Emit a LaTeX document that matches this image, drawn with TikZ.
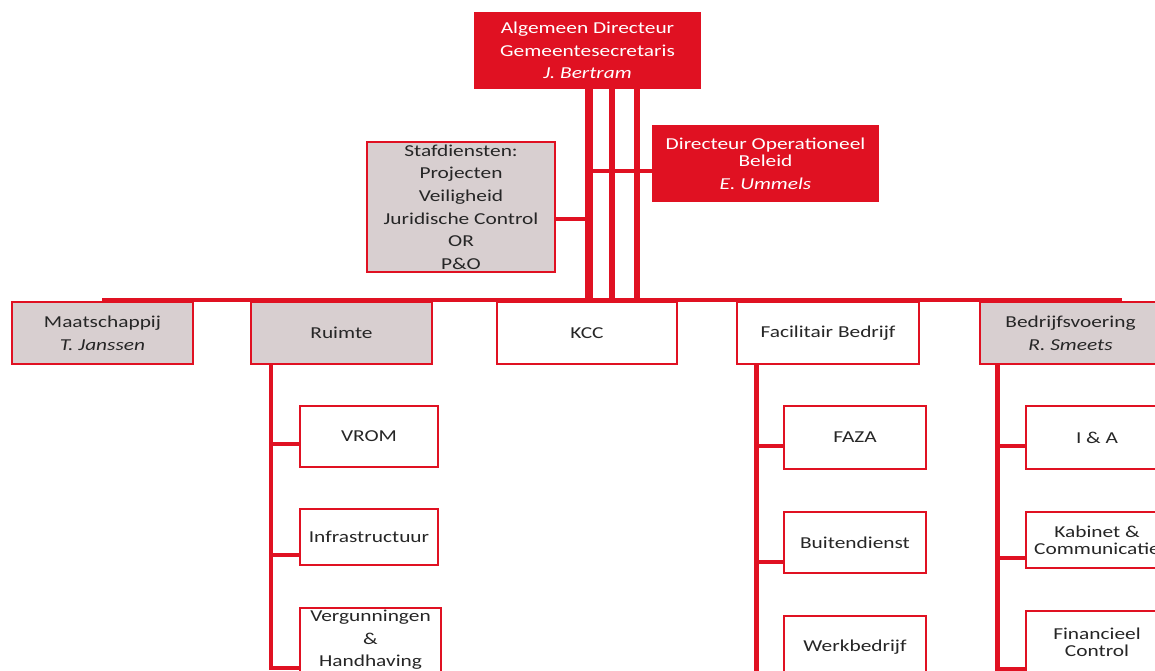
\documentclass[tikz,border=0pt]{standalone}
\usepackage{fontspec}
\setmainfont{Carlito}[FakeStretch=1.28]
\usetikzlibrary{calc}
\definecolor{orgred}{RGB}{224,17,34}
\definecolor{orggray}{RGB}{216,207,208}
\definecolor{orgtext}{RGB}{38,38,38}

\begin{document}
\begin{tikzpicture}[
    x=0.02cm, y=-0.02cm, line join=miter,
    boxsize/.style 2 args={minimum width=#1*0.02cm, minimum height=#2*0.02cm},
    box/.style={draw=orgred, line width=1.1pt, fill=white, text=orgtext,
      align=center, inner sep=0pt, font=\fontsize{9.5}{12.9}\selectfont},
    staff/.style={box, fill=orggray},
    head/.style={box, fill=orgred, text=white},
    link/.style={orgred, line width=2.8pt},
    bar/.style={orgred, line width=3.4pt},
  ]
  \useasboundingbox (0,0) rectangle (1155,670);
  \clip (0,0) rectangle (1155,670);

  % --- top ---
  \node[head, boxsize={225}{75}] (ad) at (587.5,50.5)
    {Algemeen Directeur\\Gemeentesecretaris\\\textit{J. Bertram}};
  \node[head, boxsize={225}{75}] (dob) at (765.5,163.5)
    {Directeur Operationeel\\[-3pt]Beleid\\\textit{E. Ummels}};
  \node[staff, boxsize={188}{130}] (staf) at (461,207)
    {Stafdiensten:\\Projecten\\Veiligheid\\Juridische Control\\OR\\P\&O};

  % --- sectors ---
  \node[staff, boxsize={181}{62}] (maat) at (102.5,333) {Maatschappij\\\textit{T. Janssen}};
  \node[staff, boxsize={181}{62}] (ruimte) at (341.5,333) {Ruimte};
  \node[box, boxsize={180}{62}] (kcc) at (587,333) {KCC};
  \node[box, boxsize={182}{62}] (fac) at (828,333) {Facilitair Bedrijf};
  \node[staff, boxsize={181}{62}] (bv) at (1070.5,333) {Bedrijfsvoering\\\textit{R. Smeets}};

  % --- departments ---
  \node[box, boxsize={138}{61}] (vrom) at (369,436.5) {VROM};
  \node[box, boxsize={138}{56}] (infra) at (369,537) {Infrastructuur};
  \node[box, boxsize={141}{64}] (verg) at (370.5,640) {Vergunningen\\\&\\Handhaving};
  \node[box, boxsize={142}{63}] (faza) at (855,437.5) {FAZA};
  \node[box, boxsize={142}{61}] (buiten) at (855,542.5) {Buitendienst};
  \node[box, boxsize={142}{62}] (werk) at (855,647) {Werkbedrijf};
  \node[box, boxsize={142}{63}] (ia) at (1097,437.5) {I \& A};
  \node[box, boxsize={142}{56}] (kab) at (1097,540) {Kabinet \&\\[-3pt]Communicatie};
  \node[box, boxsize={142}{62}] (fin) at (1097,642) {Financieel\\[-3pt]Control};

  % --- main line and bars ---
  \coordinate (mainL) at (102,300);
  \coordinate (mainR) at (1122,300);
  \draw[link] (mainL) -- (mainR);
  \coordinate (bA) at ($(ad.south)+(1.5,0)$);
  \coordinate (bB) at ($(ad.south)+(24.5,0)$);
  \coordinate (bC) at ($(ad.south)+(49.5,0)$);
  \draw[bar, line width=4pt] (bA) -- (bA |- mainL);
  \draw[bar] (bB) -- (bB |- mainL);
  \draw[bar] (bC) -- (bC |- mainL);
  \coordinate (sj) at ($(staf.east)+(0,12)$);
  \draw[link] (sj) -- (sj -| bA);
  \coordinate (dj) at ($(dob.west)+(0,7.5)$);
  \draw[link] (dj) -- (dj -| bA);

  % --- Ruimte ---
  \coordinate (rs) at ($(ruimte.south west)+(21,0)$);
  \draw[link] (rs) |- ($(verg.west)+(0,28)$);
  \foreach \sub/\dy in {vrom/7.5, infra/18}{
    \coordinate (j) at ($(\sub.west)+(0,\dy)$);
    \draw[link] (j) -- (j -| rs);
  }

  % --- Facilitair Bedrijf ---
  \coordinate (fs) at ($(fac.south west)+(20,0)$);
  \draw[link] (fs) |- ($(werk.west)+(0,29)$);
  \foreach \sub/\dy in {faza/8.5, buiten/19.5}{
    \coordinate (j) at ($(\sub.west)+(0,\dy)$);
    \draw[link] (j) -- (j -| fs);
  }

  % --- Bedrijfsvoering ---
  \coordinate (bs) at ($(bv.south west)+(18.5,0)$);
  \draw[link] (bs) |- ($(fin.west)+(0,27)$);
  \foreach \sub/\dy in {ia/8.5, kab/18}{
    \coordinate (j) at ($(\sub.west)+(0,\dy)$);
    \draw[link] (j) -- (j -| bs);
  }
\end{tikzpicture}
\end{document}
